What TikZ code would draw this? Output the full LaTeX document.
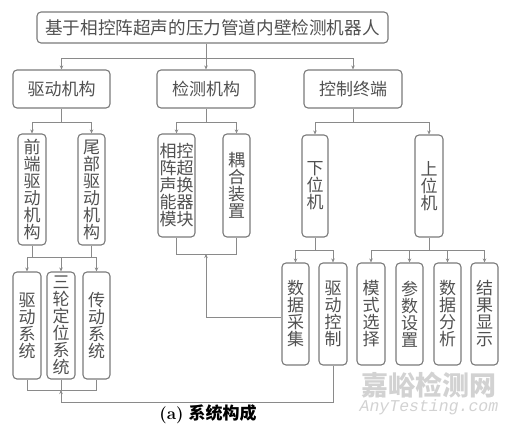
\documentclass[tikz,border=0pt]{standalone}
\usepackage{fontspec}
\newfontfamily\cjk{Noto Sans CJK SC}
\newfontfamily\wmono{Liberation Mono}
\usetikzlibrary{arrows.meta}
\definecolor{boxc}{HTML}{7A7A7A}
\definecolor{linec}{HTML}{8A8A8A}
\definecolor{txtc}{HTML}{505050}
\definecolor{wmc}{HTML}{D2D2D2}
\tikzset{
  bx/.style={draw=boxc, line width=1.1pt, rounded corners=4pt, inner sep=0pt, text=txtc, align=center},
  hbox/.style={bx, font={\fontsize{17}{17}\selectfont\cjk}},
  vbox/.style={bx, font={\fontsize{17}{17}\selectfont\cjk}},
  ln/.style={draw=linec, line width=1pt},
  ar/.style={ln, -{Stealth[length=4pt,width=3.5pt]}},
}
\begin{document}
\begin{tikzpicture}[x=1pt,y=-1pt]
\useasboundingbox (0,0) rectangle (510,426);
% title
\node[hbox, minimum width=351pt, minimum height=31pt, font={\fontsize{17.6}{17.6}\selectfont\cjk}] (top) at (212.5,27.5) {基于相控阵超声的压力管道内壁检测机器人};
% level 2
\node[hbox, minimum width=97pt, minimum height=38pt] (qd) at (61.5,89) {驱动机构};
\node[hbox, minimum width=98pt, minimum height=38pt] (jc) at (206,89) {检测机构};
\node[hbox, minimum width=98pt, minimum height=38pt] (kz) at (353,89) {控制终端};
% level 3
\node[vbox, minimum width=28pt, minimum height=111pt] (qdj) at (32,189.5) {前\\端\\驱\\动\\机\\构};
\node[vbox, minimum width=27pt, minimum height=111pt] (wbj) at (91.5,189.5) {尾\\部\\驱\\动\\机\\构};
\node[vbox, minimum width=37pt, minimum height=103pt] (xk) at (176.5,185.5) {相控\\阵超\\声换\\能器\\模块};
\node[vbox, minimum width=27pt, minimum height=103pt] (oh) at (236.5,185.5) {耦\\合\\装\\置};
\node[vbox, minimum width=26pt, minimum height=102pt] (xw) at (315,186) {下\\位\\机};
\node[vbox, minimum width=28pt, minimum height=102pt] (sw) at (429,186) {上\\位\\机};
% level 4 left
\node[vbox, minimum width=28pt, minimum height=107pt] (qdx) at (27,325.5) {驱\\动\\系\\统};
\node[vbox, minimum width=28pt, minimum height=107pt] (slx) at (61,325.5) {三\\轮\\定\\位\\系\\统};
\node[vbox, minimum width=27pt, minimum height=107pt] (cdx) at (96.5,325.5) {传\\动\\系\\统};
% level 4 right
\node[vbox, minimum width=27pt, minimum height=102pt] (sjcj) at (295.5,314) {数\\据\\采\\集};
\node[vbox, minimum width=28pt, minimum height=102pt] (qdkz) at (333,314) {驱\\动\\控\\制};
\node[vbox, minimum width=28pt, minimum height=102pt] (msxz) at (371,314) {模\\式\\选\\择};
\node[vbox, minimum width=27pt, minimum height=102pt] (cssz) at (409.5,314) {参\\数\\设\\置};
\node[vbox, minimum width=27pt, minimum height=102pt] (sjfx) at (447.5,314) {数\\据\\分\\析};
\node[vbox, minimum width=27pt, minimum height=102pt] (jgxs) at (484.5,314) {结\\果\\显\\示};

% junction coordinates
\coordinate (j1) at (206,58);
\coordinate (j2) at (61,122);
\coordinate (j3) at (206,122);
\coordinate (j4) at (353,122);
\coordinate (j5) at (61,257);
\coordinate (j6) at (315,250);
\coordinate (j7) at (429,250);
\coordinate (j8) at (206,254);
\coordinate (j9) at (61,390);
\coordinate (c1) at (206,317);
\coordinate (c2) at (333,402);
\coordinate (c3) at (61,402);

% top -> level 2
\draw[ln] (top.south -| j1) -- (j1);
\draw[ln] (qd.north |- j1) -- (kz.north |- j1);
\draw[ar] (qd.north |- j1) -- (qd.north);
\draw[ar] (j1) -- (jc.north);
\draw[ar] (kz.north |- j1) -- (kz.north);

% level 2 -> level 3
\draw[ln] (qd.south -| j2) -- (j2);
\draw[ln] (qdj.north |- j2) -- (wbj.north |- j2);
\draw[ar] (qdj.north |- j2) -- (qdj.north);
\draw[ar] (wbj.north |- j2) -- (wbj.north);

\draw[ln] (jc.south) -- (j3);
\draw[ln] (xk.north |- j3) -- (oh.north |- j3);
\draw[ar] (xk.north |- j3) -- (xk.north);
\draw[ar] (oh.north |- j3) -- (oh.north);

\draw[ln] (kz.south) -- (j4);
\draw[ln] (xw.north |- j4) -- (sw.north |- j4);
\draw[ar] (xw.north |- j4) -- (xw.north);
\draw[ar] (sw.north |- j4) -- (sw.north);

% level 3 -> level 4 left
\draw[ln] (qdj.south) -- (qdj.south |- j5);
\draw[ln] (wbj.south) -- (wbj.south |- j5);
\draw[ln] (qdx.north |- j5) -- (cdx.north |- j5);
\draw[ar] (qdx.north |- j5) -- (qdx.north);
\draw[ar] (j5) -- (slx.north);
\draw[ar] (cdx.north |- j5) -- (cdx.north);

% lower machine -> children
\draw[ln] (xw.south) -- (j6);
\draw[ln] (sjcj.north |- j6) -- (qdkz.north |- j6);
\draw[ar] (sjcj.north |- j6) -- (sjcj.north);
\draw[ar] (qdkz.north |- j6) -- (qdkz.north);

% upper machine -> children
\draw[ln] (sw.south) -- (j7);
\draw[ln] (msxz.north |- j7) -- (jgxs.north |- j7);
\draw[ar] (msxz.north |- j7) -- (msxz.north);
\draw[ar] (cssz.north |- j7) -- (cssz.north);
\draw[ar] (sjfx.north |- j7) -- (sjfx.north);
\draw[ar] (jgxs.north |- j7) -- (jgxs.north);

% detection modules merge, fed by data acquisition
\draw[ln] (xk.south) -- (xk.south |- j8) -- (oh.south |- j8) -- (oh.south);
\draw[ln] (sjcj.west |- c1) -- (c1);
\draw[ar] (c1) -- (j8);

% drive systems merge, fed by drive control
\draw[ln] (qdx.south) -- (qdx.south |- j9) -- (cdx.south |- j9) -- (cdx.south);
\draw[ln] (slx.south) -- (j9);
\draw[ln] (qdkz.south) -- (c2) -- (c3);
\draw[ar] (c3) -- (j9);

% caption
\node[inner sep=0pt, text=black] (cap) at (208,414) {\fontsize{17}{17}\selectfont\textbf{(a)}\ {\cjk\bfseries 系统构成}};

% watermark
\node[inner sep=0pt, text=wmc, font={\fontsize{27}{27}\selectfont\cjk\bfseries}] (wm1) at (429,385) {嘉峪检测网};
\node[inner sep=0pt, text=wmc, font={\fontsize{16.5}{16.5}\selectfont\wmono\itshape}] (wm2) at (429,407) {AnyTesting.com};
\end{tikzpicture}
\end{document}
